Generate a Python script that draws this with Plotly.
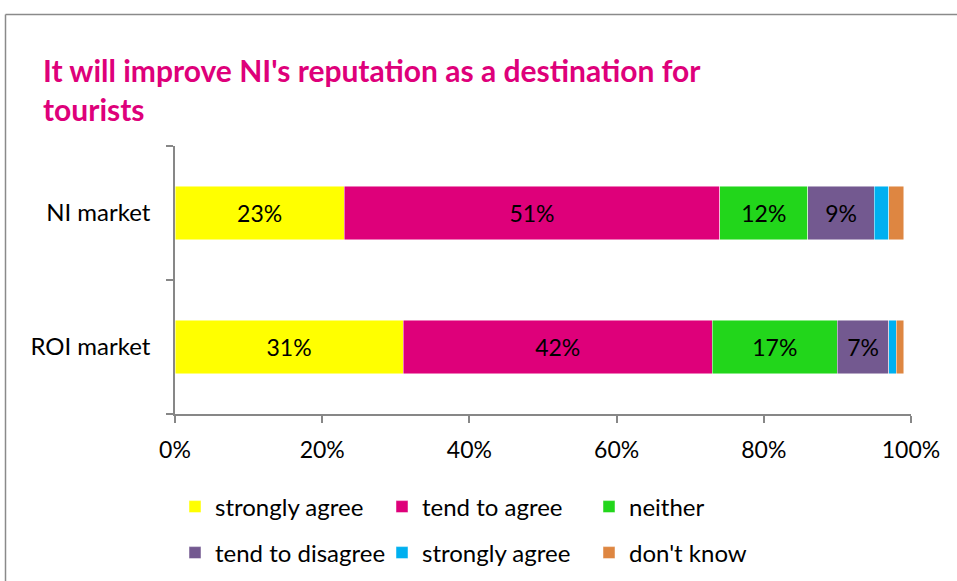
import plotly.graph_objects as go

# Survey data (percent of respondents)
markets = ["NI market", "ROI market"]
series_names = ["strongly agree", "tend to agree", "neither",
                "tend to disagree", "strongly agree", "don't know"]
strongly_agree = [23, 31]
tend_to_agree = [51, 42]
neither = [12, 17]
tend_to_disagree = [9, 7]
strongly_disagree = [2, 1]
dont_know = [2, 1]
colors = ["#FFFF00", "#DE007A", "#22D61B", "#735990", "#00B0F0", "#DE8641"]
show_labels = [True, True, True, True, False, False]
x_ticks = [0, 20, 40, 60, 80, 100]
x_tick_text = [f"{t}%" for t in x_ticks]

values = [strongly_agree, tend_to_agree, neither,
          tend_to_disagree, strongly_disagree, dont_know]

FONT = "Lato"
FS = 23
W, H = 957, 581
L, R, T, B = 175, 46, 146, 167
pw, ph = W - L - R, H - T - B


def py(pix):
    """Vertical pixel position -> paper fraction."""
    return (H - B - pix) / ph


def px(pix):
    """Horizontal pixel position -> paper fraction."""
    return (pix - L) / pw


fig = go.Figure()
for i, (name, vals, col, lab) in enumerate(zip(series_names, values, colors, show_labels)):
    fig.add_trace(go.Bar(
        y=markets, x=vals, name=name, orientation="h",
        marker=dict(color=col, line=dict(color="rgba(255,255,255,0.6)", width=0.8)),
        text=[f"{v}%" for v in vals] if lab else None,
        textposition="inside" if lab else "none",
        insidetextanchor="middle",
        textfont=dict(family=FONT, size=FS, color="black"),
        legend="legend" if i < 3 else "legend2",
        hoverinfo="name+x",
    ))

legend_common = dict(
    orientation="h", xanchor="left", yanchor="middle",
    traceorder="normal",
    entrywidth=162, entrywidthmode="pixels",
    font=dict(family=FONT, size=24), itemclick=False,
    bgcolor="rgba(0,0,0,0)",
)

fig.update_layout(
    width=W, height=H,
    margin=dict(l=L, r=R, t=T, b=B, autoexpand=False),
    barmode="stack", bargap=0.6,
    paper_bgcolor="white", plot_bgcolor="white",
    font=dict(family=FONT, size=FS, color="black"),
    xaxis=dict(
        range=[0, 100], tickvals=x_ticks, ticktext=x_tick_text,
        showgrid=False, zeroline=False, automargin=False,
        showline=True, linecolor="#878787", linewidth=1.5,
        ticks="outside", ticklen=7, tickcolor="#878787", tickwidth=1.5,
        tickfont=dict(family=FONT, size=FS), ticklabelstandoff=8,
    ),
    yaxis=dict(
        categoryorder="array", categoryarray=markets[::-1],
        showgrid=False, zeroline=False, automargin=False,
        showline=True, linecolor="#878787", linewidth=1.5,
        ticks="outside", ticklen=7, tickcolor="#878787", tickwidth=1.5,
        tickson="boundaries",
        tickfont=dict(family=FONT, size=24), ticklabelstandoff=18,
    ),
    legend=dict(x=px(175), y=py(507), **legend_common),
    legend2=dict(x=px(175), y=py(553), **legend_common),
    showlegend=True,
)

# Chart title, two lines, left aligned
fig.add_annotation(
    text="It will improve NI's reputation as a destination for<br>tourists",
    xref="paper", yref="paper", x=px(41), y=py(89),
    xanchor="left", yanchor="middle", align="left", showarrow=False,
    font=dict(family=FONT, size=30, color="#DE007A", weight="bold"),
)

# Outer chart frame (top and left edges visible)
fx0 = px(5.5)
fy1 = py(14.5)
fig.add_shape(type="line", xref="paper", yref="paper",
              x0=fx0, x1=2, y0=fy1, y1=fy1,
              line=dict(color="#8A8A8A", width=1.5))
fig.add_shape(type="line", xref="paper", yref="paper",
              x0=fx0, x1=fx0, y0=fy1, y1=-2,
              line=dict(color="#8A8A8A", width=1.5))

fig.write_html("out.html")
